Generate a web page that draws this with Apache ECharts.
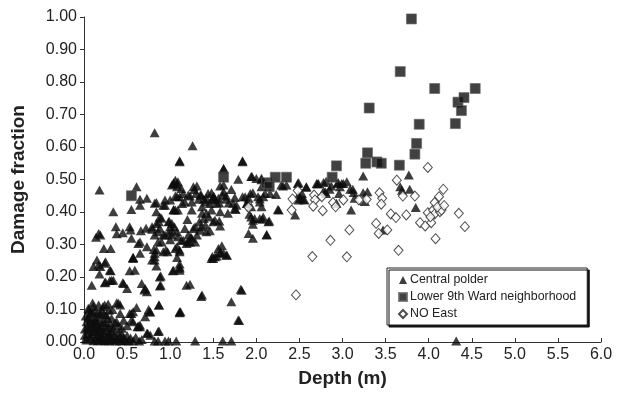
<!DOCTYPE html>
<html>
<head>
<meta charset="utf-8">
<script src="https://cdn.jsdelivr.net/npm/echarts@6/dist/echarts.min.js"></script>
<style>
  html, body { margin: 0; padding: 0; background: #fff; }
  #chart { width: 620px; height: 397px; }
</style>
</head>
<body>
<div id="chart"></div>
<script>
// depth (m), damage fraction
const centralPolder = [
  [0.82,0.644],[1.11,0.558],[1.26,0.604],[1.62,0.533],[1.84,0.558],[1.95,0.509],[1.06,0.498],
  // cluster near the origin
  [0.05,0.104],[0.11,0.109],[0.17,0.114],[0.22,0.109],[0.24,0.114],[0.29,0.098],[0.38,0.121],[0.42,0.114],
  [0.07,0.088],[0.13,0.078],[0.19,0.088],[0.26,0.083],[0.32,0.073],[0.03,0.062],[0.09,0.052],[0.15,0.057],
  [0.22,0.062],[0.28,0.047],[0.34,0.042],[0.05,0.037],[0.11,0.032],[0.19,0.037],[0.24,0.027],[0.07,0.016],
  [0.15,0.018],[0.21,0.014],[0.30,0.018],[0.38,0.011],[0.46,0.014],[0.03,0.006],[0.11,0.004],[0.19,0.006],
  [0.26,0.004],[0.34,0.006],[0.42,0.004],[0.52,0.003],[0.57,0.004],[0.01,0.021],[0.02,0.010],[0.53,0.088],
  [0.55,0.067],[0.57,0.093],[0.63,0.049],[0.65,0.047],[0.76,0.093],[0.87,0.114],[0.73,0.027],[0.87,0.034],
  [0.64,0.003],[0.82,0.003],[0.86,0.003],[0.94,0.003],[0.98,0.003],[0.44,0.042],[0.46,0.067],[0.38,0.062],
  [0.42,0.088],[0.28,0.117],[0.08,0.070],[0.12,0.095],[0.16,0.025],[0.20,0.050],[0.25,0.060],[0.30,0.030],
  [0.35,0.020],[0.13,0.008],[0.17,0.042],[0.10,0.120],[0.23,0.085],[0.06,0.100],[0.33,0.100],[0.40,0.030],
  [0.48,0.005],[0.27,0.012],[0.04,0.045],[0.09,0.028],[0.14,0.066],[0.20,0.020],
  [0.02,0.080],[0.04,0.025],[0.06,0.058],[0.08,0.012],[0.10,0.045],[0.12,0.062],[0.14,0.035],[0.16,0.090],
  [0.18,0.070],[0.18,0.010],[0.21,0.098],[0.22,0.035],[0.23,0.004],[0.25,0.045],[0.27,0.072],[0.28,0.026],
  [0.31,0.055],[0.32,0.008],[0.33,0.035],[0.36,0.060],[0.37,0.003],[0.40,0.050],[0.41,0.016],[0.44,0.025],
  [0.45,0.004],[0.50,0.020],[0.50,0.050],[0.54,0.012],[0.60,0.015],[0.67,0.008],[0.05,0.075],[0.09,0.092],
  [0.13,0.048],[0.01,0.040],[0.16,0.004],[0.29,0.004],
  // 0 - 1 m
  [0.15,0.252],[0.11,0.232],[0.17,0.237],[0.19,0.232],[0.24,0.242],[0.18,0.209],[0.31,0.219],[0.09,0.175],
  [0.24,0.182],[0.30,0.189],[0.34,0.190],[0.45,0.182],[0.50,0.165],[0.57,0.260],[0.53,0.219],[0.59,0.221],
  [0.65,0.273],[0.79,0.252],[0.84,0.234],[0.89,0.203],[0.89,0.175],[0.70,0.160],[0.73,0.155],[1.03,0.219],
  [1.11,0.240],[1.11,0.090],
  [0.18,0.468],[0.61,0.478],[0.55,0.408],[0.65,0.439],[0.73,0.442],[0.65,0.421],[0.84,0.429],[0.94,0.421],
  [1.00,0.437],[1.06,0.449],[1.04,0.487],[1.08,0.486],[1.06,0.406],[1.09,0.406],[0.34,0.401],[0.37,0.355],
  [0.53,0.355],[0.54,0.345],[0.66,0.342],[0.79,0.355],[0.84,0.365],[0.90,0.381],[0.98,0.370],[0.87,0.370],
  [0.17,0.334],[0.19,0.329],[0.14,0.322],[0.38,0.333],[0.45,0.336],[0.55,0.319],[0.65,0.308],[0.82,0.329],
  [0.86,0.339],[0.94,0.329],[0.98,0.336],[1.02,0.329],[1.08,0.339],[1.00,0.315],[0.63,0.303],[0.86,0.308],
  [0.23,0.288],[0.31,0.288],[0.73,0.293],[0.81,0.285],[0.92,0.278],[0.97,0.278],[1.06,0.288],[0.57,0.260],
  [0.82,0.262],[1.08,0.260],
  [0.25,0.247],[0.30,0.221],[0.25,0.185],[0.32,0.190],[0.46,0.180],[0.40,0.119],[0.57,0.257],[0.67,0.180],
  [0.71,0.165],[0.61,0.106],[0.55,0.088],[0.57,0.062],[0.65,0.052],[0.62,0.047],[0.75,0.100],[0.71,0.078],
  [0.77,0.092],[0.74,0.027],[0.72,0.350],[0.79,0.347],[0.82,0.427],[0.84,0.401],[0.88,0.385],[0.92,0.421],
  [0.94,0.437],[0.88,0.350],[0.92,0.329],[0.90,0.308],[0.84,0.283],[0.82,0.273],[0.82,0.252],[0.88,0.200],
  [0.88,0.172],[0.87,0.114],[0.86,0.032],[0.77,0.021],[0.95,0.283],[0.99,0.371],[1.00,0.355],[1.02,0.344],
  [1.04,0.221],[1.11,0.231],[1.11,0.093],
  // 1 - 2 m
  [1.11,0.555],[1.62,0.534],[1.84,0.555],[1.94,0.509],[1.79,0.501],[1.04,0.490],[1.02,0.483],[1.09,0.493],
  [1.13,0.472],[1.31,0.480],[1.28,0.469],[1.62,0.483],[1.58,0.480],[1.71,0.469],[1.08,0.447],[1.11,0.447],
  [1.21,0.452],[1.35,0.452],[1.39,0.439],[1.44,0.457],[1.48,0.459],[1.50,0.447],[1.52,0.437],[1.62,0.462],
  [1.65,0.449],[1.75,0.445],[1.87,0.447],[1.93,0.457],[1.96,0.459],[2.02,0.447],[2.10,0.457],[1.17,0.431],
  [1.14,0.426],[1.25,0.431],[1.33,0.439],[1.41,0.431],[1.46,0.426],[1.57,0.428],[1.68,0.428],[1.77,0.421],
  [1.89,0.426],[1.94,0.416],[2.04,0.431],[2.06,0.416],[1.04,0.406],[1.25,0.406],[1.37,0.416],[1.48,0.406],
  [1.58,0.401],[1.67,0.396],[1.75,0.411],[1.94,0.385],[1.98,0.380],[2.04,0.380],[2.14,0.370],[1.20,0.377],
  [1.37,0.396],[1.39,0.380],[1.34,0.370],[1.52,0.375],[1.50,0.370],[1.17,0.349],[1.27,0.349],[1.41,0.360],
  [1.46,0.342],[1.58,0.357],[1.02,0.365],[1.91,0.334],[1.96,0.319],[1.24,0.323],[1.15,0.313],[1.21,0.308],
  [1.29,0.308],[1.08,0.293],[1.11,0.283],[1.56,0.288],[1.60,0.296],[1.58,0.275],[1.66,0.267],[1.52,0.262],
  [1.48,0.257],
  [1.11,0.227],[1.23,0.178],[1.37,0.145],[1.12,0.093],[1.82,0.162],[1.71,0.124],[1.79,0.068],[1.49,0.263],
  [1.54,0.265],[1.59,0.275],[1.65,0.268],[1.11,0.278],[1.07,0.003],[1.29,0.003],[1.61,0.003],[1.71,0.003],
  [1.15,0.457],[1.23,0.449],[1.27,0.478],[1.30,0.457],[1.36,0.452],[1.42,0.442],[1.51,0.447],[1.56,0.442],
  [1.61,0.452],[1.65,0.439],[1.73,0.427],[1.76,0.408],[1.84,0.447],[1.89,0.427],[1.91,0.442],[1.96,0.375],
  [1.96,0.362],[1.92,0.393],[2.07,0.378],[2.12,0.331],[2.00,0.503],[2.06,0.478],[2.06,0.499],[1.42,0.396],
  [1.45,0.385],[1.36,0.355],[1.35,0.344],[1.42,0.339],[1.29,0.355],[1.23,0.308],[1.25,0.319],[1.19,0.303],
  [1.21,0.329],[1.31,0.329],[1.50,0.257],[1.62,0.273],[1.57,0.372],[1.54,0.427],[1.19,0.175],[1.36,0.140],
  [1.83,0.159],[1.80,0.066],[1.49,0.439],[1.08,0.478],[1.04,0.408],[1.05,0.355],[1.09,0.324],[1.13,0.313],
  [1.11,0.221],
  // 2 m and deeper
  [2.16,0.457],[2.25,0.408],[2.29,0.483],[2.35,0.483],[2.48,0.488],[2.58,0.478],[2.70,0.488],[2.78,0.491],
  [2.81,0.495],[2.95,0.491],[2.45,0.391],[2.49,0.452],[2.51,0.442],[2.56,0.437],[2.78,0.465],[2.81,0.457],
  [2.85,0.470],[2.93,0.427],[2.06,0.504],[2.08,0.447],[2.04,0.440],[2.23,0.454],[2.31,0.480],[2.49,0.490],
  [2.54,0.439],[2.49,0.437],[2.53,0.457],[2.58,0.476],[2.26,0.406],[2.08,0.385],[2.15,0.372],[2.12,0.329],
  [2.71,0.486],[2.94,0.488],[2.99,0.488],[3.05,0.493],[3.09,0.470],[3.12,0.470],[2.96,0.457],[2.80,0.462],
  [3.14,0.442],[3.10,0.406],[3.24,0.511],[3.77,0.514],[3.13,0.460],[3.24,0.459],[3.29,0.462],[3.26,0.432],
  [3.67,0.478],[3.69,0.467],[3.78,0.470],[3.85,0.414],[3.47,0.345],[4.32,0.003],[2.72,0.488],[2.87,0.480],
  [3.01,0.488],[2.97,0.478]
];

const lowerNinthWard = [
  [3.80,0.994],[3.67,0.832],[4.07,0.780],[4.54,0.780],[4.34,0.738],[4.41,0.752],[4.38,0.712],[3.31,0.720],
  [3.89,0.670],[4.31,0.672],[3.86,0.611],[3.84,0.578],[3.29,0.582],[2.93,0.542],[3.27,0.550],[3.40,0.554],
  [3.45,0.550],[3.66,0.544],[2.88,0.507],[0.55,0.450],[1.62,0.507],[2.12,0.490],[2.22,0.507],[2.35,0.507],
  [2.15,0.478]
];

const noEast = [
  [3.99,0.537],[3.63,0.498],[2.67,0.452],[2.68,0.437],[2.66,0.418],[2.77,0.404],[2.76,0.447],[2.89,0.429],
  [2.92,0.416],[3.01,0.437],[3.21,0.437],[3.28,0.439],[3.43,0.459],[3.46,0.442],[3.45,0.424],[3.56,0.394],
  [3.62,0.383],[3.70,0.449],[3.84,0.449],[3.74,0.391],[3.39,0.365],[3.42,0.334],[3.52,0.345],[3.08,0.345],
  [2.86,0.313],[2.65,0.263],[3.05,0.262],[3.65,0.282],[3.90,0.367],[3.96,0.357],[4.03,0.367],[3.99,0.398],
  [4.05,0.406],[4.07,0.429],[4.12,0.447],[4.17,0.470],[4.07,0.394],[4.13,0.401],[4.15,0.406],[4.08,0.318],
  [4.35,0.396],[4.42,0.355],[2.46,0.145],[2.41,0.406],[2.42,0.440],[2.48,0.466],[1.91,0.414],[3.19,0.437],
  [4.10,0.415],[4.02,0.385],[4.18,0.420]
];

const seriesNames = ['Central polder', 'Lower 9th Ward neighborhood', 'NO East'];
const xTicks = { min: 0, max: 6, step: 0.5 };
const yTicks = { min: 0, max: 1, step: 0.1 };

const font = '"Liberation Sans", Arial, Helvetica, sans-serif';

const chart = echarts.init(document.getElementById('chart'));

const option = {
  backgroundColor: '#fff',
  animation: false,
  textStyle: { fontFamily: font, color: '#222' },
  grid: { left: 84, right: 19, top: 17, bottom: 55 },
  xAxis: {
    type: 'value',
    min: xTicks.min,
    max: xTicks.max,
    interval: xTicks.step,
    name: 'Depth (m)',
    nameLocation: 'middle',
    nameGap: 27,
    nameTextStyle: { fontFamily: font, fontSize: 19, fontWeight: 'bold', color: '#222' },
    axisLine: { lineStyle: { color: '#333', width: 1 } },
    axisTick: { inside: true, length: 4, lineStyle: { color: '#333' } },
    axisLabel: {
      fontFamily: font, fontSize: 16, color: '#222', margin: 5,
      formatter: (v) => v.toFixed(1)
    },
    splitLine: { show: false }
  },
  yAxis: {
    type: 'value',
    min: yTicks.min,
    max: yTicks.max,
    interval: yTicks.step,
    name: 'Damage fraction',
    nameLocation: 'middle',
    nameGap: 56,
    nameTextStyle: { fontFamily: font, fontSize: 19, fontWeight: 'bold', color: '#222' },
    axisLine: { show: true, lineStyle: { color: '#333', width: 1 } },
    axisTick: { show: true, inside: false, length: 4, lineStyle: { color: '#333' } },
    axisLabel: {
      fontFamily: font, fontSize: 16, color: '#222', margin: 7,
      formatter: (v) => v.toFixed(2)
    },
    splitLine: { show: false }
  },
  legend: {
    orient: 'vertical',
    left: 387,
    top: 268,
    padding: [6, 11, 5, 11],
    itemGap: 5,
    itemWidth: 8,
    itemHeight: 8,
    backgroundColor: '#fff',
    borderColor: '#222',
    borderWidth: 1,
    borderRadius: 0,
    shadowColor: '#111',
    shadowBlur: 0,
    shadowOffsetX: 2,
    shadowOffsetY: 2,
    textStyle: { fontFamily: font, fontSize: 12.4, color: '#222', padding: [0, 0, 0, -2] },
    data: seriesNames
  },
  series: [
    {
      name: seriesNames[0],
      type: 'scatter',
      symbol: 'triangle',
      symbolSize: [10, 9],
      clip: false,
      itemStyle: { color: '#0d0d0d' },
      data: centralPolder
    },
    {
      name: seriesNames[1],
      type: 'scatter',
      symbol: 'rect',
      symbolSize: 10,
      clip: false,
      itemStyle: { color: '#111', borderColor: '#666', borderWidth: 0.8 },
      data: lowerNinthWard
    },
    {
      name: seriesNames[2],
      type: 'scatter',
      symbol: 'diamond',
      symbolSize: [9, 10],
      clip: false,
      itemStyle: { color: '#fff', borderColor: '#222', borderWidth: 1 },
      data: noEast
    }
  ]
};

chart.setOption(option);
</script>
</body>
</html>
